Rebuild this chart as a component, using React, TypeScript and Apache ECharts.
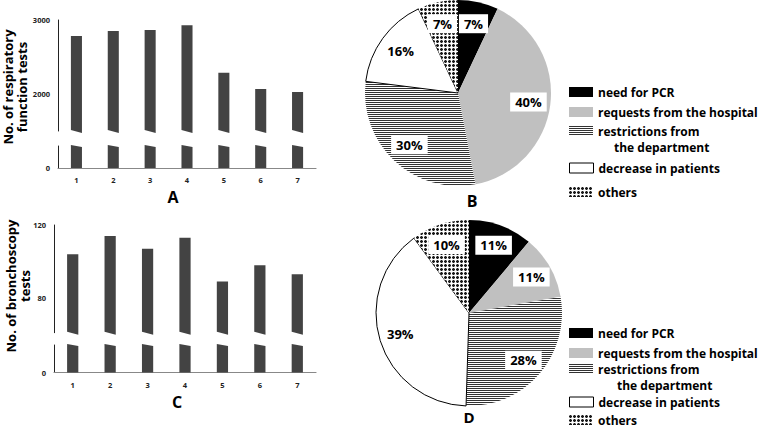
import React, { useEffect, useRef } from 'react';
import * as echarts from 'echarts';

// ---------- data ----------
const categories = ['1', '2', '3', '4', '5', '6', '7'];
const respiratoryTests = [2784, 2851, 2865, 2928, 2288, 2068, 2027];
const bronchoscopyTests = [104, 114, 107, 113, 89, 98, 93];
const respiratoryTickLabels = [0, 2000, 3000];
const bronchoscopyTickLabels = [0, 80, 120];
const reasonNames = [
  'need for PCR',
  'requests from the hospital',
  'restrictions from the department',
  'decrease in patients',
  'others',
];
const reasonsRespiratory = [7, 40, 30, 16, 7];
const reasonsBronchoscopy = [11, 11, 28, 39, 10];

// broken-axis ranges (upper part / lower part)
const respUpper = [1500, 3000];
const respLower = [0, 300];
const bronUpper = [61, 120];
const bronLower = [0, 15];

const FONT = '"Open Sans", sans-serif';
const BAR = '#434343';

function makeStripes() {
  const c = document.createElement('canvas');
  c.width = 4;
  c.height = 2;
  const ctx = c.getContext('2d')!;
  ctx.fillStyle = '#ffffff';
  ctx.fillRect(0, 0, 4, 2);
  ctx.fillStyle = '#333333';
  ctx.fillRect(0, 0, 4, 1);
  return c;
}
function makeDots() {
  const c = document.createElement('canvas');
  c.width = 4;
  c.height = 4;
  const ctx = c.getContext('2d')!;
  ctx.fillStyle = '#ffffff';
  ctx.fillRect(0, 0, 4, 4);
  ctx.fillStyle = '#1a1a1a';
  ctx.fillRect(0, 0, 3, 3);
  ctx.fillStyle = '#9a9a9a';
  ctx.fillRect(0, 0, 1, 1);
  ctx.fillRect(2, 0, 1, 1);
  ctx.fillRect(0, 2, 1, 1);
  ctx.fillRect(2, 2, 1, 1);
  return c;
}

const upperRender = (params: any, api: any) => {
  const cs = params.coordSys;
  const pt = api.coord([api.value(0), api.value(1)]);
  const w = api.size([1, 0])[0] * 0.3;
  const bottom = cs.y + cs.height;
  const top = Math.max(pt[1], cs.y);
  if (top >= bottom) return null;
  return {
    type: 'polygon',
    shape: {
      points: [
        [pt[0] - w / 2, top],
        [pt[0] + w / 2, top],
        [pt[0] + w / 2, bottom + 2],
        [pt[0] - w / 2, bottom - 1],
      ],
    },
    style: { fill: BAR },
  };
};

const lowerRender = (params: any, api: any) => {
  const cs = params.coordSys;
  const base = api.coord([api.value(0), 0]);
  const pt = api.coord([api.value(0), api.value(1)]);
  const w = api.size([1, 0])[0] * 0.3;
  const clipped = pt[1] <= cs.y;
  const tl = clipped ? cs.y - 1 : pt[1];
  const tr = clipped ? cs.y + 1 : pt[1];
  return {
    type: 'polygon',
    shape: {
      points: [
        [pt[0] - w / 2, tl],
        [pt[0] + w / 2, tr],
        [pt[0] + w / 2, base[1]],
        [pt[0] - w / 2, base[1]],
      ],
    },
    style: { fill: BAR },
  };
};

export default function App() {
  const ref = useRef<HTMLDivElement>(null);
  useEffect(() => {
    if (!ref.current) return;
    const chart = echarts.init(ref.current, null, { renderer: 'svg' });
    const stripes = { image: makeStripes(), repeat: 'repeat' };
    const dots = { image: makeDots(), repeat: 'repeat' };
    const sliceStyles: any[] = [
      { color: '#000000' },
      { color: '#c0c0c0' },
      { color: stripes },
      { color: '#ffffff', borderColor: '#000', borderWidth: 1 },
      { color: dots },
    ];

    const axisLabel = (vals: number[]) => ({
      customValues: vals,
      formatter: (v: number) => String(v),
      fontSize: 7.5,
      fontWeight: 'bold',
      fontFamily: FONT,
      color: '#222',
      margin: 8,
    });
    const yAxisBase = {
      type: 'value',
      axisLine: { show: true, lineStyle: { color: '#222', width: 1 } },
      axisTick: { show: false },
      splitLine: { show: false },
    };
    const xHidden = { type: 'category', data: categories, show: false };
    const xShown = {
      type: 'category',
      data: categories,
      axisLine: { show: true, lineStyle: { color: '#888', width: 1.2 } },
      axisTick: { show: false },
      axisLabel: { fontSize: 7.5, fontWeight: 'bold', fontFamily: FONT, color: '#222', margin: 8 },
    };

    const pieData = (vals: number[]) =>
      reasonNames.map((n, i) => ({ name: n, value: vals[i], itemStyle: sliceStyles[i] }));
    const overlayData = (vals: number[]) => reasonNames.map((n, i) => ({ name: n, value: vals[i] }));
    const pieLabel = {
      show: true,
      position: 'inside',
      formatter: '{c}%',
      color: '#000',
      fontSize: 13,
      fontWeight: 'bold',
      fontFamily: FONT,
      backgroundColor: '#fff',
      padding: [3, 5],
    };

    const legendTextStyle = { fontSize: 12, fontWeight: 'bold', fontFamily: FONT, color: '#000', lineHeight: 12 };
    const legendCentersB = [92, 112, 131, 168, 192];
    const legendCentersD = [333, 353, 369, 402, 420];
    const legends: any[] = [];
    [legendCentersB, legendCentersD].forEach((centers) => {
      reasonNames.forEach((n, i) => {
        legends.push({
          left: 569,
          top: centers[i] - 6,
          padding: 0,
          icon: 'rect',
          itemWidth: 24,
          itemHeight: 10,
          selectedMode: false,
          data: [i === 3 ? { name: n, itemStyle: { borderColor: '#000', borderWidth: 1 } } : n],
          formatter: (name: string) => (name === reasonNames[2] ? 'restrictions from' : name),
          textStyle: legendTextStyle,
        });
      });
    });

    const text = (t: string, x: number, y: number, size: number, extra: any = {}) => ({
      type: 'text',
      x,
      y,
      ...extra,
      style: {
        text: t,
        fontSize: size,
        fontWeight: 'bold',
        fontFamily: FONT,
        fill: '#000',
        align: 'center',
        verticalAlign: 'middle',
        lineHeight: 14,
        ...(extra.style || {}),
      },
    });

    chart.setOption({
      animation: false,
      backgroundColor: '#fff',
      grid: [
        { left: 58, width: 258, top: 20, height: 111, outerBoundsMode: 'none' },
        { left: 58, width: 258, top: 146, height: 22, outerBoundsMode: 'none' },
        { left: 54, width: 262, top: 225, height: 107.7, outerBoundsMode: 'none' },
        { left: 54, width: 262, top: 345, height: 27.5, outerBoundsMode: 'none' },
      ],
      xAxis: [
        { ...xHidden, gridIndex: 0 },
        { ...xShown, gridIndex: 1 },
        { ...xHidden, gridIndex: 2 },
        { ...xShown, gridIndex: 3 },
      ],
      yAxis: [
        { ...yAxisBase, gridIndex: 0, min: respUpper[0], max: respUpper[1],
          axisLabel: axisLabel(respiratoryTickLabels.filter((v) => v >= respUpper[0])) },
        { ...yAxisBase, gridIndex: 1, min: respLower[0], max: respLower[1],
          axisLabel: axisLabel(respiratoryTickLabels.filter((v) => v <= respLower[1])) },
        { ...yAxisBase, gridIndex: 2, min: bronUpper[0], max: bronUpper[1],
          axisLabel: axisLabel(bronchoscopyTickLabels.filter((v) => v >= bronUpper[0])) },
        { ...yAxisBase, gridIndex: 3, min: bronLower[0], max: bronLower[1],
          axisLabel: axisLabel(bronchoscopyTickLabels.filter((v) => v <= bronLower[1])) },
      ],
      legend: legends,
      series: [
        { type: 'custom', name: 'resp-upper', xAxisIndex: 0, yAxisIndex: 0, clip: false,
          renderItem: upperRender, data: respiratoryTests.map((v, i) => [i, v]) },
        { type: 'custom', name: 'resp-lower', xAxisIndex: 1, yAxisIndex: 1, clip: false,
          renderItem: lowerRender, data: respiratoryTests.map((v, i) => [i, v]) },
        { type: 'custom', name: 'bron-upper', xAxisIndex: 2, yAxisIndex: 2, clip: false,
          renderItem: upperRender, data: bronchoscopyTests.map((v, i) => [i, v]) },
        { type: 'custom', name: 'bron-lower', xAxisIndex: 3, yAxisIndex: 3, clip: false,
          renderItem: lowerRender, data: bronchoscopyTests.map((v, i) => [i, v]) },
        { type: 'pie', name: 'B', center: [458, 93], radius: [0, 93], startAngle: 90,
          label: { show: false }, labelLine: { show: false }, emphasis: { disabled: true },
          data: pieData(reasonsRespiratory) },
        { type: 'pie', name: 'D', center: [469, 313], radius: [0, 93], startAngle: 90,
          label: { show: false }, labelLine: { show: false }, emphasis: { disabled: true },
          data: pieData(reasonsBronchoscopy) },
        { type: 'pie', name: 'B-labels', center: [458, 93], radius: [43, 93], startAngle: 90, silent: true,
          itemStyle: { color: 'rgba(0,0,0,0)', borderWidth: 0 }, label: pieLabel, labelLine: { show: false },
          emphasis: { disabled: true }, data: overlayData(reasonsRespiratory) },
        { type: 'pie', name: 'D-labels', center: [469, 313], radius: [45, 93], startAngle: 90, silent: true,
          itemStyle: { color: 'rgba(0,0,0,0)', borderWidth: 0 }, label: pieLabel, labelLine: { show: false },
          emphasis: { disabled: true }, data: overlayData(reasonsBronchoscopy) },
      ],
      graphic: [
        text('No. of respiratory\nfunction tests', 15, 87, 13, { rotation: Math.PI / 2 }),
        text('No. of bronchoscopy\ntests', 18, 286, 13, { rotation: Math.PI / 2 }),
        text('A', 173, 197, 16),
        text('B', 472, 201, 16),
        text('C', 177, 402, 16),
        text('D', 469, 417, 15),
        text('the department', 614, 147, 12, { style: { align: 'left', lineHeight: 12 } }),
        text('the department', 617, 385, 12, { style: { align: 'left', lineHeight: 12 } }),
      ],
    });
    return () => chart.dispose();
  }, []);
  return (
    <div
      ref={ref}
      style={{ position: 'fixed', left: 0, top: 0, width: 763, height: 427, background: '#fff' }}
    />
  );
}
